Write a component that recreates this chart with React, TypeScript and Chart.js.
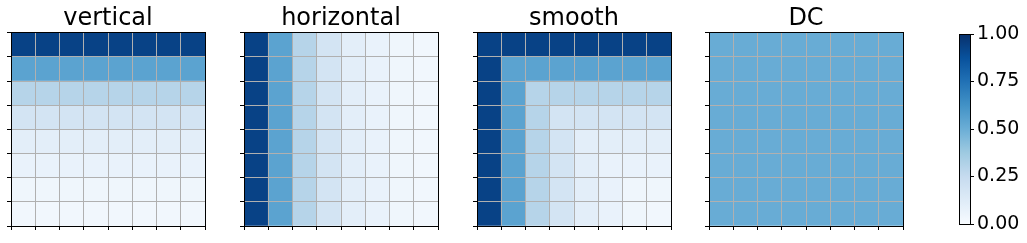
import React, { useEffect, useRef } from "react";
import { Chart, registerables } from "chart.js";

Chart.register(...registerables);
Chart.defaults.font.family = "'DejaVu Sans', sans-serif";
Chart.defaults.color = "#000";

// ---------- data ----------
const TITLES = ["vertical", "horizontal", "smooth", "DC"];
const COLUMNS = ["0", "1", "2", "3", "4", "5", "6", "7"];

const VERTICAL = [
  [0.93, 0.93, 0.93, 0.93, 0.93, 0.93, 0.93, 0.93],
  [0.55, 0.55, 0.55, 0.55, 0.55, 0.55, 0.55, 0.55],
  [0.3, 0.3, 0.3, 0.3, 0.3, 0.3, 0.3, 0.3],
  [0.18, 0.18, 0.18, 0.18, 0.18, 0.18, 0.18, 0.18],
  [0.1, 0.1, 0.1, 0.1, 0.1, 0.1, 0.1, 0.1],
  [0.07, 0.07, 0.07, 0.07, 0.07, 0.07, 0.07, 0.07],
  [0.04, 0.04, 0.04, 0.04, 0.04, 0.04, 0.04, 0.04],
  [0.03, 0.03, 0.03, 0.03, 0.03, 0.03, 0.03, 0.03],
];

const HORIZONTAL = [
  [0.93, 0.55, 0.3, 0.18, 0.1, 0.07, 0.04, 0.03],
  [0.93, 0.55, 0.3, 0.18, 0.1, 0.07, 0.04, 0.03],
  [0.93, 0.55, 0.3, 0.18, 0.1, 0.07, 0.04, 0.03],
  [0.93, 0.55, 0.3, 0.18, 0.1, 0.07, 0.04, 0.03],
  [0.93, 0.55, 0.3, 0.18, 0.1, 0.07, 0.04, 0.03],
  [0.93, 0.55, 0.3, 0.18, 0.1, 0.07, 0.04, 0.03],
  [0.93, 0.55, 0.3, 0.18, 0.1, 0.07, 0.04, 0.03],
  [0.93, 0.55, 0.3, 0.18, 0.1, 0.07, 0.04, 0.03],
];

const SMOOTH = [
  [0.93, 0.93, 0.93, 0.93, 0.93, 0.93, 0.93, 0.93],
  [0.93, 0.55, 0.55, 0.55, 0.55, 0.55, 0.55, 0.55],
  [0.93, 0.55, 0.3, 0.3, 0.3, 0.3, 0.3, 0.3],
  [0.93, 0.55, 0.3, 0.18, 0.18, 0.18, 0.18, 0.18],
  [0.93, 0.55, 0.3, 0.18, 0.1, 0.1, 0.1, 0.1],
  [0.93, 0.55, 0.3, 0.18, 0.1, 0.07, 0.07, 0.07],
  [0.93, 0.55, 0.3, 0.18, 0.1, 0.07, 0.04, 0.04],
  [0.93, 0.55, 0.3, 0.18, 0.1, 0.07, 0.04, 0.03],
];

const DC = [
  [0.51, 0.51, 0.51, 0.51, 0.51, 0.51, 0.51, 0.51],
  [0.51, 0.51, 0.51, 0.51, 0.51, 0.51, 0.51, 0.51],
  [0.51, 0.51, 0.51, 0.51, 0.51, 0.51, 0.51, 0.51],
  [0.51, 0.51, 0.51, 0.51, 0.51, 0.51, 0.51, 0.51],
  [0.51, 0.51, 0.51, 0.51, 0.51, 0.51, 0.51, 0.51],
  [0.51, 0.51, 0.51, 0.51, 0.51, 0.51, 0.51, 0.51],
  [0.51, 0.51, 0.51, 0.51, 0.51, 0.51, 0.51, 0.51],
  [0.51, 0.51, 0.51, 0.51, 0.51, 0.51, 0.51, 0.51],
];

const MATRICES = [VERTICAL, HORIZONTAL, SMOOTH, DC];
const COLORBAR_TICKS = [0, 0.25, 0.5, 0.75, 1];
const COLORBAR_LABELS = ["0.00", "0.25", "0.50", "0.75", "1.00"];

// ---------- Blues colormap ----------
const BLUES = [
  [247, 251, 255],
  [222, 235, 247],
  [198, 219, 239],
  [158, 202, 225],
  [107, 174, 214],
  [66, 146, 198],
  [33, 113, 181],
  [8, 81, 156],
  [8, 48, 107],
];

function blues(v: number): string {
  const x = Math.max(0, Math.min(1, v)) * 8;
  const i = Math.min(7, Math.floor(x));
  const t = x - i;
  const a = BLUES[i];
  const b = BLUES[i + 1];
  const c = a.map((av, k) => Math.round(av + (b[k] - av) * t));
  return `rgb(${c[0]},${c[1]},${c[2]})`;
}

const align = (p: number) => Math.round(p - 0.5) + 0.5;

const framePlugin = {
  id: "frame",
  afterDraw(chart: any) {
    const { ctx, chartArea: a } = chart;
    ctx.save();
    ctx.strokeStyle = "#000";
    ctx.lineWidth = 1;
    const l = align(a.left);
    const r = align(a.right);
    const t = align(a.top);
    const b = align(a.bottom);
    ctx.strokeRect(l, t, r - l, b - t);
    ctx.restore();
  },
};

const PANEL_LEFT = [11, 244, 477, 709];
const PANEL_SIZE = 194;
const GRID = "#b0b0b0";

function Heatmap({ title, matrix, left }: { title: string; matrix: number[][]; left: number }) {
  const ref = useRef<HTMLCanvasElement>(null);
  useEffect(() => {
    const n = matrix.length;
    const datasets = [] as any[];
    for (let k = 0; k < n; k++) {
      const row = matrix[n - 1 - k];
      datasets.push({
        data: row.map(() => 1),
        backgroundColor: row.map(blues),
        borderWidth: 0,
        categoryPercentage: 1,
        barPercentage: 1,
      });
    }
    const chart = new Chart(ref.current as HTMLCanvasElement, {
      type: "bar",
      data: { labels: COLUMNS, datasets },
      options: {
        animation: false,
        responsive: true,
        maintainAspectRatio: false,
        layout: { padding: { left: 6, right: 10, top: 0, bottom: 13 } },
        plugins: {
          legend: { display: false },
          tooltip: { enabled: false },
          title: {
            display: true,
            text: title,
            color: "#000",
            font: { size: 24, weight: "normal" },
            padding: { top: 4, bottom: 0 },
            fullSize: false,
          } as any,
        },
        scales: {
          x: {
            stacked: true,
            ticks: { display: false },
            grid: { color: GRID, lineWidth: 1, tickColor: "#000", tickLength: 4, offset: true, z: 1 },
            border: { color: "#000", width: 1, z: 2 },
          },
          y: {
            stacked: true,
            min: 0,
            max: n,
            ticks: { display: false, stepSize: 1 },
            grid: { color: GRID, lineWidth: 1, tickColor: "#000", tickLength: 4, z: 1 },
            border: { color: "#000", width: 1, z: 2 },
          },
        },
      } as any,
      plugins: [framePlugin],
    });
    return () => chart.destroy();
  }, []);
  return (
    <div style={{ position: "absolute", left: left - 10, top: 0, width: PANEL_SIZE + 20, height: 243 }}>
      <canvas ref={ref} />
    </div>
  );
}

function Colorbar() {
  const ref = useRef<HTMLCanvasElement>(null);
  useEffect(() => {
    const chart = new Chart(ref.current as HTMLCanvasElement, {
      type: "bar",
      data: {
        labels: ["scale"],
        datasets: [
          {
            data: [1],
            borderWidth: 0,
            categoryPercentage: 1,
            barPercentage: 1,
            backgroundColor: (ctx: any) => {
              const a = ctx.chart.chartArea;
              if (!a) return "transparent";
              const g = ctx.chart.ctx.createLinearGradient(0, a.bottom, 0, a.top);
              BLUES.forEach((c, i) => g.addColorStop(i / 8, `rgb(${c[0]},${c[1]},${c[2]})`));
              return g;
            },
          },
        ],
      },
      options: {
        animation: false,
        responsive: true,
        maintainAspectRatio: false,
        layout: { padding: { left: 10, right: 8, top: 34, bottom: 19 } },
        plugins: { legend: { display: false }, tooltip: { enabled: false } },
        scales: {
          x: { display: false },
          y: {
            position: "right",
            min: 0,
            max: 1,
            afterBuildTicks: (s: any) => {
              s.ticks = COLORBAR_TICKS.map((v) => ({ value: v }));
            },
            afterFit: (s: any) => {
              s.width = 49;
            },
            ticks: {
              padding: 3,
              color: "#000",
              font: { size: 19 },
              callback: (_v: any, i: number) => COLORBAR_LABELS[i],
            },
            grid: { drawOnChartArea: false, tickLength: 4, tickColor: "#000" },
            border: { display: false },
          },
        },
      } as any,
      plugins: [framePlugin],
    });
    return () => chart.destroy();
  }, []);
  return (
    <div style={{ position: "absolute", left: 949, top: 0, width: 78, height: 243 }}>
      <canvas ref={ref} />
    </div>
  );
}

export default function App() {
  return (
    <div style={{ position: "absolute", left: 0, top: 0, width: 1027, height: 243, background: "#fff" }}>
      {TITLES.map((t, i) => (
        <Heatmap key={t} title={t} matrix={MATRICES[i]} left={PANEL_LEFT[i]} />
      ))}
      <Colorbar />
    </div>
  );
}
